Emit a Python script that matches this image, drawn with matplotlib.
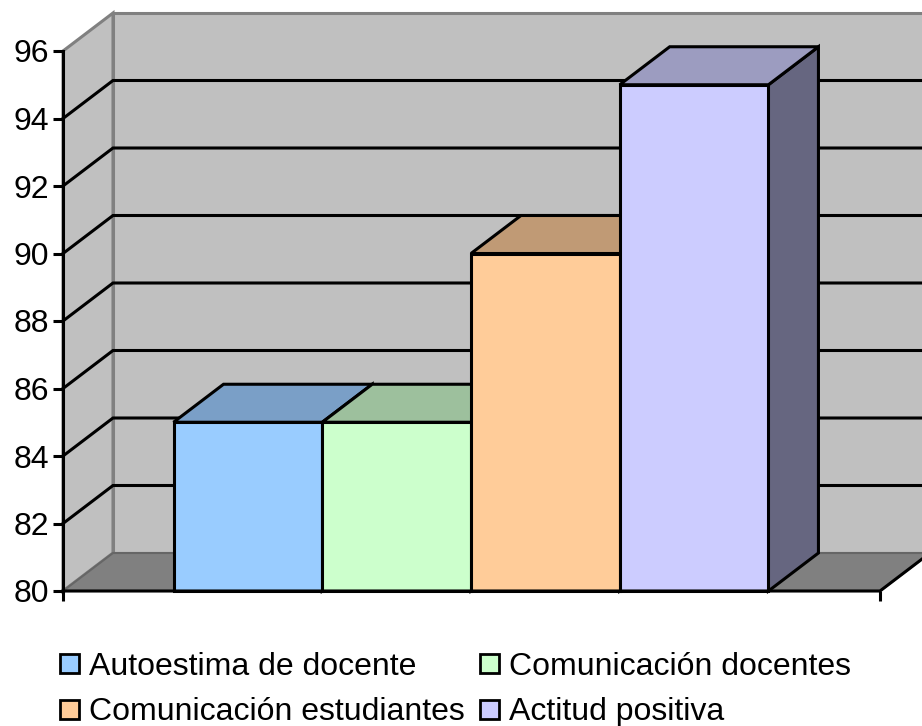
import matplotlib
matplotlib.use('Agg')
import matplotlib.pyplot as plt
from matplotlib.patches import Polygon, Rectangle

categories = ['Autoestima de docente', 'Comunicación docentes',
              'Comunicación estudiantes', 'Actitud positiva']
values = [85, 85, 90, 95]
front_colors = ['#99CCFF', '#CCFFCC', '#FFCC99', '#CCCCFF']
top_colors = ['#7A9FC7', '#9DC09D', '#C09A75', '#9C9CC0']
side_color = '#666680'
yticks = [80, 82, 84, 86, 88, 90, 92, 94, 96]

W, H = 922, 726
plt.rcParams['font.family'] = ['Liberation Sans', 'DejaVu Sans']
fig = plt.figure(figsize=(W / 100, H / 100), dpi=100)
# plot area in pixels: front floor 63..880, y 591..51
ax = fig.add_axes([63 / W, 1 - 591 / H, 817 / W, 540 / H])
ax.set_xlim(-0.743, 4.75)
ax.set_ylim(80, 96)
ax.patch.set_visible(False)
for s in ax.spines.values():
    s.set_visible(False)

dx = 50 / 148.75   # depth offset in bar widths
dy = 38 / 33.75    # depth offset in value units
x0, x1 = ax.get_xlim()
ymin, ymax = ax.get_ylim()
xcut = x1 + 0.3
LW = 2.2

def poly(pts, fc, ec='black', lw=LW, z=1):
    ax.add_patch(Polygon(pts, closed=True, facecolor=fc, edgecolor=ec,
                         linewidth=lw, zorder=z, clip_on=False, joinstyle='miter'))

# walls and floor
poly([(x0 + dx, ymin + dy), (xcut, ymin + dy), (xcut, ymax + dy), (x0 + dx, ymax + dy)],
     '#C0C0C0', ec='#808080', lw=LW)
poly([(x0, ymin), (x0 + dx, ymin + dy), (x0 + dx, ymax + dy), (x0, ymax)],
     '#C0C0C0', ec='#808080', lw=LW)
poly([(x0, ymin), (x1, ymin), (x1 + dx, ymin + dy), (x0 + dx, ymin + dy)],
     '#808080', ec='#666666', lw=1.5)

# gridlines
for t in yticks[1:-1]:
    ax.plot([x0, x0 + dx, xcut], [t, t + dy, t + dy], color='black', lw=LW,
            zorder=2, clip_on=False, solid_joinstyle='miter')

# bars
for i, v in enumerate(values):
    poly([(i + 1, ymin), (i + 1 + dx, ymin + dy), (i + 1 + dx, v + dy), (i + 1, v)],
         side_color, z=3 + i)
    poly([(i, v), (i + 1, v), (i + 1 + dx, v + dy), (i + dx, v + dy)],
         top_colors[i], z=3 + i)
    ax.bar(i + 0.5, v - ymin, width=1, bottom=ymin, color=front_colors[i],
           edgecolor='black', linewidth=LW, zorder=3 + i, clip_on=False)

# front axes
ax.plot([x0, x1, x1 + dx], [ymin, ymin, ymin + dy], color='black', lw=LW, zorder=20,
        clip_on=False, solid_joinstyle='miter')
ax.plot([x0, x0], [ymin, ymax], color='black', lw=LW, zorder=20, clip_on=False)

ax.set_xticks([x0, x1])
ax.set_xticklabels([])
ax.set_yticks(yticks)
ax.tick_params(axis='y', labelsize=23, length=7, width=LW, pad=3, direction='out')
ax.tick_params(axis='x', length=7, width=LW, direction='out')

# legend in figure pixels: swatch left, swatch bottom, baseline
legend_pos = [(60, 673, 675), (480, 673, 675), (60, 719, 720), (480, 719, 720)]
for (lx, sy, ly), name, c in zip(legend_pos, categories, front_colors):
    fig.add_artist(Rectangle((lx / W, 1 - sy / H), 19 / W, 19 / H, facecolor=c,
                             edgecolor='black', linewidth=2, transform=fig.transFigure))
    fig.text((lx + 29) / W, 1 - ly / H, name, fontsize=23, va='baseline', ha='left')

fig.savefig('out.png', dpi=100)
